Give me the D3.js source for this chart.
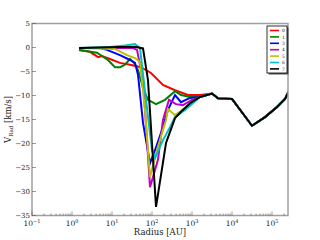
<!DOCTYPE html>
<html>
<head>
<meta charset="utf-8">
<title>Radial velocity profiles</title>
<script src="https://cdn.jsdelivr.net/npm/d3@7"></script>
<style>
  body { margin: 0; background: #fff; }
  text { font-family: "DejaVu Serif", serif; }
</style>
</head>
<body>
<script>
// legend labels and colours, one per snapshot
var labels = ["0", "1", "3", "4", "5", "6", "7"];
var colors = ["#ff0000", "#008000", "#0000ff", "#bf00bf", "#bfbf00", "#00bfbf", "#000000"];

// outer part shared by every curve  [radius AU, v km/s]
var tail = [[1585, -10.3], [3162, -9.6], [4467, -10.6], [10000, -10.7], [31623, -16.3],
            [66834, -14.5], [133352, -12.4], [211349, -10.7], [281838, -8.6]];

var s0 = [[1.5, -0.5], [2.8, -0.9], [4.5, -2.0], [5.6, -1.8], [8.9, -2.4], [15.8, -3.2],
          [28.2, -3.6], [53.1, -4.1], [94.4, -5.3], [188, -7.8], [376, -8.9], [794, -9.9], [1585, -9.9]];
var s1 = [[1.5, -0.5], [4.2, -1.1], [7.9, -2.6], [11.9, -4.1], [15.8, -4.1], [21.1, -3.6],
          [28.2, -2.4], [35.5, -3.2], [44.7, -4.7], [59.6, -8.4], [79.4, -10.9], [126, -11.8],
          [211, -10.9], [376, -9.1], [531, -9.9], [891, -10.3]];
var s3 = [[1.5, -0.1], [5.0, -0.1], [7.5, -0.5], [15.8, -1.6], [28.2, -2.6], [37.6, -3.2],
          [44.7, -5.7], [59.6, -15.7], [89.1, -24.1], [119, -21.4], [168, -17.8], [251, -13.0],
          [376, -9.9], [531, -11.4], [891, -10.5]];
var s4 = [[1.5, -0.1], [8.9, -0.1], [33.5, -0.1], [42.2, -0.5], [59.6, -6.8], [75, -19.3],
          [89.1, -29.1], [141, -23.4], [188, -15.1], [266, -10.9], [398, -11.8], [596, -12.0], [1000, -10.9]];
var s5 = [[1.5, -0.1], [11.9, -0.3], [23.7, -1.6], [37.6, -2.2], [50.1, -3.0], [66.8, -13.0],
          [89.1, -27.0], [141, -20.7], [224, -15.1], [251, -12.8], [376, -14.1], [668, -12.6]];
var s6 = [[1.5, -0.1], [8.9, 0.1], [21.1, 0.4], [37.6, 0.7], [50.1, -0.1], [70.8, -10.9],
          [100, -21.4], [119, -23.0], [188, -19.3], [282, -16.6], [376, -14.5], [668, -13.0]];
var s7 = [[1.5, -0.1], [5.0, 0.0], [15.8, 0.1], [39.8, 0.1], [59.6, -0.2], [79.4, -6.8],
          [126, -33.2], [224, -19.9], [376, -14.7], [531, -13.4], [891, -11.6]];

var series = [s0, s1, s3, s4, s5, s6, s7];

var xTicks = [0.1, 1, 10, 100, 1000, 10000, 100000];
var xTickExp = ["-1", "0", "1", "2", "3", "4", "5"];
var yTicks = [5, 0, -5, -10, -15, -20, -25, -30, -35];

var w = 320, h = 240;
var m = { left: 32, right: 32, top: 23.5, bottom: 24.5 };

var svg = d3.select("body").append("svg")
    .attr("width", w).attr("height", h);

var x = d3.scaleLog().domain([0.1, Math.pow(10, 5.4)]).range([m.left, w - m.right]);
var y = d3.scaleLinear().domain([-35, 5]).range([h - m.bottom, m.top]);

svg.append("clipPath").attr("id", "clip")
  .append("rect")
    .attr("x", m.left).attr("y", m.top)
    .attr("width", w - m.left - m.right).attr("height", h - m.top - m.bottom);

var line = d3.line()
    .x(function(d) { return x(d[0]); })
    .y(function(d) { return y(d[1]); });

var plot = svg.append("g").attr("clip-path", "url(#clip)");
series.forEach(function(s, i) {
  plot.append("path")
      .attr("d", line(s.concat(tail.filter(function(t) { return t[0] > s[s.length - 1][0]; }))))
      .attr("fill", "none")
      .attr("stroke", colors[i])
      .attr("stroke-width", 2)
      .attr("stroke-linejoin", "miter");
});

// frame
svg.append("rect")
    .attr("x", m.left).attr("y", m.top)
    .attr("width", w - m.left - m.right).attr("height", h - m.top - m.bottom)
    .attr("fill", "none").attr("stroke", "#a0a0a0").attr("stroke-width", 1.5);

// x ticks (major + minor, inward)
var minor = [];
for (var e = -1; e <= 5; e++) {
  for (var k = 2; k <= 9; k++) {
    var v = k * Math.pow(10, e);
    if (v < x.domain()[1]) minor.push(v);
  }
}
var tickCol = "#555";
svg.selectAll(".xmin").data(minor).enter().append("line")
    .attr("x1", function(d) { return x(d); }).attr("x2", function(d) { return x(d); })
    .attr("y1", h - m.bottom).attr("y2", h - m.bottom - 2)
    .attr("stroke", tickCol).attr("stroke-width", 0.6);
svg.selectAll(".xmaj").data(xTicks).enter().append("line")
    .attr("x1", function(d) { return x(d); }).attr("x2", function(d) { return x(d); })
    .attr("y1", h - m.bottom).attr("y2", h - m.bottom - 4)
    .attr("stroke", tickCol).attr("stroke-width", 0.6);

var xl = svg.selectAll(".xlab").data(xTicks).enter().append("text")
    .attr("x", function(d) { return x(d); })
    .attr("y", h - m.bottom + 10.5)
    .attr("text-anchor", "middle")
    .attr("font-size", 7.5)
    .attr("fill", "#222");
xl.append("tspan").text("10");
xl.append("tspan").attr("dy", -3.5).attr("font-size", 5)
    .text(function(d, i) { return xTickExp[i].replace("-", "\u2212"); });

// y ticks
svg.selectAll(".ytk").data(yTicks).enter().append("line")
    .attr("x1", m.left).attr("x2", m.left + 4)
    .attr("y1", function(d) { return y(d); }).attr("y2", function(d) { return y(d); })
    .attr("stroke", tickCol).attr("stroke-width", 0.6);
svg.selectAll(".ylab").data(yTicks).enter().append("text")
    .attr("x", m.left - 2)
    .attr("y", function(d) { return y(d) + 2; })
    .attr("text-anchor", "end")
    .attr("font-size", 7)
    .attr("fill", "#222")
    .text(function(d) { return String(d).replace("-", "\u2212"); });

// axis titles
svg.append("text")
    .attr("x", (m.left + w - m.right) / 2).attr("y", 234.5)
    .attr("text-anchor", "middle").attr("font-size", 8.5).attr("fill", "#222")
    .text("Radius [AU]");

var yt = svg.append("text")
    .attr("transform", "translate(11," + ((m.top + h - m.bottom) / 2) + ") rotate(-90)")
    .attr("text-anchor", "middle").attr("font-size", 8.5).attr("fill", "#222");
yt.append("tspan").text("V");
yt.append("tspan").attr("dy", 2).attr("font-size", 5.5).text("Rad");
yt.append("tspan").attr("dy", -2).text(" [km/s]");

// legend
var lx = 267, ly = 26, lw = 20, lh = 47;
svg.append("rect").attr("x", lx + 1.5).attr("y", ly + 1.5).attr("width", lw).attr("height", lh)
    .attr("fill", "#555");
svg.append("rect").attr("x", lx).attr("y", ly).attr("width", lw).attr("height", lh)
    .attr("fill", "#fff").attr("stroke", "#000").attr("stroke-width", 0.8);
labels.forEach(function(l, i) {
  var yy = ly + 4.5 + i * 6.4;
  svg.append("line")
      .attr("x1", lx + 3).attr("x2", lx + 12)
      .attr("y1", yy).attr("y2", yy)
      .attr("stroke", colors[i]).attr("stroke-width", 1.6);
  svg.append("text")
      .attr("x", lx + 15).attr("y", yy + 1.7)
      .attr("font-size", 4.5).attr("fill", "#222")
      .text(l);
});
</script>
</body>
</html>
